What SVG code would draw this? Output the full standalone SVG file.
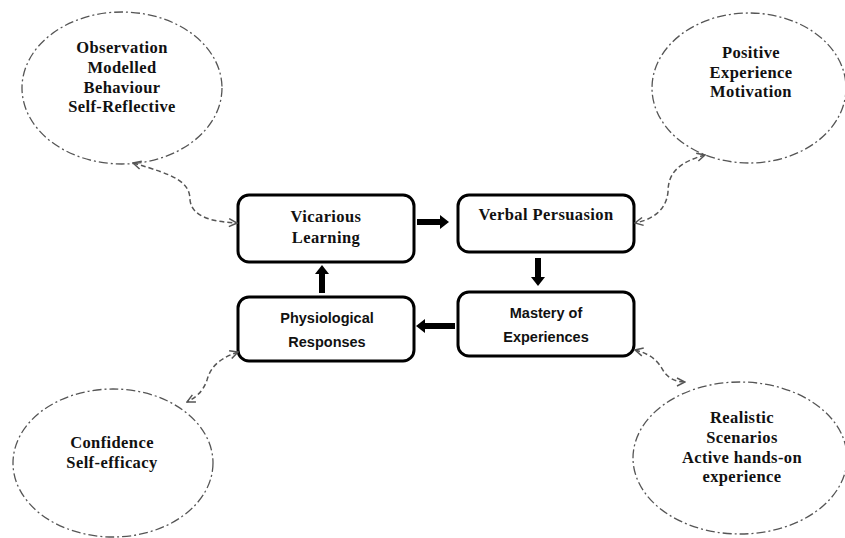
<svg xmlns="http://www.w3.org/2000/svg" width="845" height="538" viewBox="0 0 845 538">
<style>
.ell{fill:none;stroke:#555;stroke-width:1.3;stroke-dasharray:9,3,2,3}
.box{fill:#fff;stroke:#000;stroke-width:3}
.st{font-family:"Liberation Serif",serif;font-weight:bold;font-size:16.5px;letter-spacing:0.4px;fill:#111;text-anchor:middle}
.ss{font-family:"Liberation Sans",Arial,sans-serif;font-weight:bold;font-size:14.5px;fill:#111;text-anchor:middle}
.dc{fill:none;stroke:#555;stroke-width:1.5;stroke-dasharray:5,3;marker-start:url(#oa);marker-end:url(#oa)}
.ba{stroke:#000;stroke-width:6;fill:none;marker-end:url(#fa)}
</style>
<defs>
<marker id="oa" viewBox="0 0 10 10" refX="9" refY="5" markerWidth="10" markerHeight="10" markerUnits="userSpaceOnUse" orient="auto-start-reverse">
<path d="M1,1 L9,5 L1,9" fill="none" stroke="#555" stroke-width="1.5"/>
</marker>
<marker id="fa" viewBox="0 0 9 14" refX="0" refY="7" markerWidth="9" markerHeight="14" markerUnits="userSpaceOnUse" orient="auto">
<path d="M0,0 L9,7 L0,14 Z" fill="#000"/>
</marker>
</defs>
<rect width="845" height="538" fill="#fff"/>
<g id="ell-observation">
<ellipse class="ell" cx="122" cy="88" rx="100" ry="76"/>
<text class="st" x="122" y="53">Observation</text>
<text class="st" x="122" y="73">Modelled</text>
<text class="st" x="122" y="93">Behaviour</text>
<text class="st" x="122" y="112">Self-Reflective</text>
</g>
<g id="ell-positive">
<ellipse class="ell" cx="749" cy="88" rx="97" ry="75"/>
<text class="st" x="751" y="58">Positive</text>
<text class="st" x="751" y="78">Experience</text>
<text class="st" x="751" y="97">Motivation</text>
</g>
<g id="ell-confidence">
<ellipse class="ell" cx="113" cy="463" rx="100" ry="74"/>
<text class="st" x="112" y="448">Confidence</text>
<text class="st" x="112" y="468">Self-efficacy</text>
</g>
<g id="ell-realistic">
<ellipse class="ell" cx="740" cy="458" rx="107" ry="76"/>
<text class="st" x="742" y="423">Realistic</text>
<text class="st" x="742" y="443">Scenarios</text>
<text class="st" x="742" y="463">Active hands-on</text>
<text class="st" x="742" y="482">experience</text>
</g>
<g id="box-vicarious">
<rect class="box" x="238" y="195" width="176" height="67" rx="11"/>
<text class="st" x="326" y="222">Vicarious</text>
<text class="st" x="326" y="243">Learning</text>
</g>
<g id="box-verbal">
<rect class="box" x="458" y="195" width="176" height="57" rx="11"/>
<text class="st" x="546" y="220">Verbal Persuasion</text>
</g>
<g id="box-physiological">
<rect class="box" x="238" y="297" width="176" height="64" rx="11"/>
<text class="ss" x="327" y="323">Physiological</text>
<text class="ss" x="327" y="347">Responses</text>
</g>
<g id="box-mastery">
<rect class="box" x="458" y="292" width="176" height="64" rx="11"/>
<text class="ss" x="546" y="318">Mastery of</text>
<text class="ss" x="546" y="342">Experiences</text>
</g>
<g id="connectors">
<line class="ba" x1="417" y1="222" x2="440" y2="222"/>
<line class="ba" x1="538" y1="258" x2="538" y2="277"/>
<line class="ba" x1="455" y1="326" x2="425" y2="326"/>
<line class="ba" x1="322" y1="293" x2="322" y2="274"/>
<path class="dc" d="M133,163 C175,175 190,182 190,200 C192,218 215,222 237,223"/>
<path class="dc" d="M705,155 C680,162 668,172 668,192 C666,212 650,220 635,223"/>
<path class="dc" d="M238,352 C215,360 210,370 207,380 C203,392 195,398 187,402"/>
<path class="dc" d="M635,350 C655,355 660,365 664,372 C670,380 678,382 685,382"/>
</g>
</svg>
